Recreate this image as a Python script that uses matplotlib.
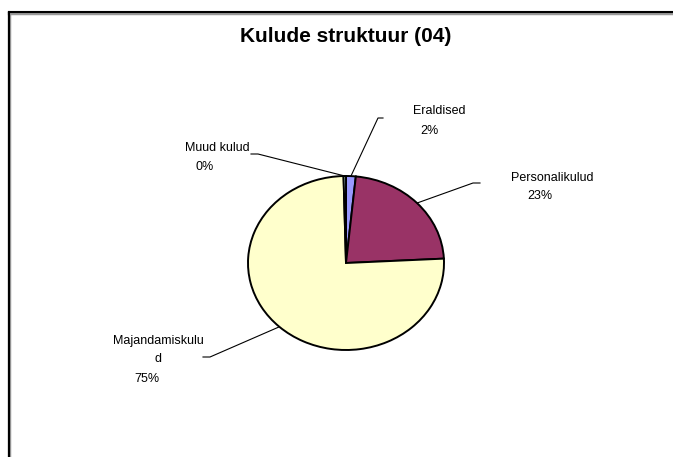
import numpy as np
import matplotlib.pyplot as plt
from matplotlib.lines import Line2D

# data
categories = ['Eraldised', 'Personalikulud', 'Majandamiskulud', 'Muud kulud']
label_lines = ['Eraldised', 'Personalikulud', 'Majandamiskulu\nd', 'Muud kulud']
values = [1.6, 22.6, 75.4, 0.4]
colors = ['#9999FF', '#993366', '#FFFFCC', '#CCFFFF']

W, H = 673, 457
# pie centre / radii in pixels (Excel draws it a bit oval)
cx, cy, rx, ry = 346, 263, 98, 87

# label layout in pixels: elbow, leader end, name centre, pct centre
layout = [
    ((378, 118), (383, 118), (439, 111), (429, 131)),
    ((473, 183), (480, 183), (552, 178), (540, 196)),
    ((210, 357), (203, 357), (158, 350), (147, 379)),
    ((258, 154), (251, 154), (217, 148), (205, 167)),
]

plt.rcParams['font.family'] = ['Liberation Sans', 'DejaVu Sans']

fig = plt.figure(figsize=(W / 100, H / 100), dpi=100)
ax = fig.add_axes([0, 0, 1, 1])

wedges, _ = ax.pie(values, colors=colors, startangle=90, counterclock=False,
                   wedgeprops=dict(edgecolor='black', linewidth=1.4))
ax.set_aspect('auto')
ax.set_xlim(-cx / rx, (W - cx) / rx)
ax.set_ylim(-(H - cy) / ry, cy / ry)
ax.axis('off')


def px(x, y):
    return (x - cx) / rx, (cy - y) / ry


for w, lay, name, v in zip(wedges, layout, label_lines, values):
    # leader starts at the middle of the wedge's arc
    mid = np.deg2rad((w.theta1 + w.theta2) / 2)
    x0, y0 = np.cos(mid), np.sin(mid)
    e1 = px(*lay[0])
    e2 = px(*lay[1])
    ax.plot([x0, e1[0], e2[0]], [y0, e1[1], e2[1]], color='black', lw=0.8,
            clip_on=False, zorder=0)
    nx, ny = px(*lay[2])
    ax.text(nx, ny, name, ha='center', va='center', fontsize=9,
            linespacing=1.75)
    qx, qy = px(*lay[3])
    ax.text(qx, qy, '%d%%' % round(v), ha='center', va='center', fontsize=9)

fig.text(346 / W, 1 - 37 / H, 'Kulude struktuur (04)', ha='center',
         va='center', fontsize=15, fontweight='bold')

# outer chart frame (only top and left visible)
fig.add_artist(Line2D([9 / W, 1], [1 - 12.5 / H, 1 - 12.5 / H], color='#999999', lw=2.5))
fig.add_artist(Line2D([9 / W, 9 / W], [0, 1 - 12.5 / H], color='#999999', lw=2.5))
fig.add_artist(Line2D([9 / W, 1], [1 - 12 / H, 1 - 12 / H], color='black', lw=1.5))
fig.add_artist(Line2D([8.5 / W, 8.5 / W], [0, 1 - 12 / H], color='black', lw=1.5))

fig.savefig('out.png', dpi=100)
